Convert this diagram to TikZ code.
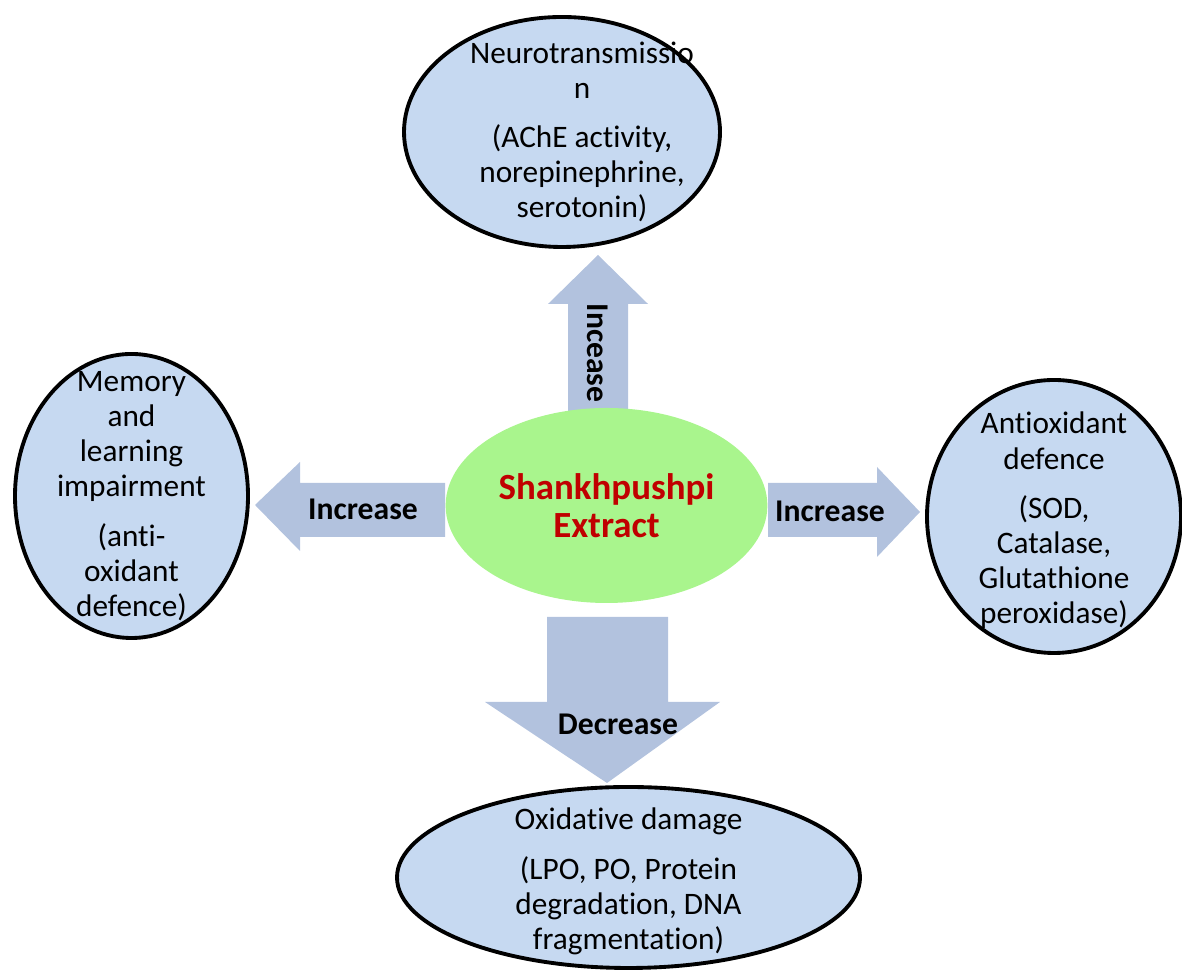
\documentclass[tikz,border=0pt]{standalone}
\usepackage{fontspec}
\setmainfont[Ligatures={NoCommon}]{Carlito}
\usetikzlibrary{shapes.geometric,positioning}

\definecolor{effectblue}{HTML}{C6D9F1}
\definecolor{arrowblue}{HTML}{B2C2DE}
\definecolor{extractgreen}{HTML}{A9F58D}
\definecolor{extractred}{HTML}{C00000}

\begin{document}
\begin{tikzpicture}[
    effect/.style={draw, ellipse, line width=2.2pt, fill=effectblue, inner sep=0pt},
    efftext/.style={align=center, font=\fontsize{17.8}{20}\selectfont},
    blockarrow/.style={fill=arrowblue},
    arrowtext/.style={font=\fontsize{18}{21}\selectfont\bfseries}]
  \useasboundingbox (0,0) rectangle (23.64,19.44);

  \fill [blockarrow] (11.36,11.14) -- (11.36,13.36) -- (10.96,13.36) -- (11.96,14.34) -- (12.96,13.36) -- (12.56,13.36) -- (12.56,11.14) -- cycle;
  \fill [blockarrow] (8.90,9.78) -- (6.00,9.78) -- (6.00,10.20) -- (5.10,9.34) -- (6.00,8.42) -- (6.00,8.70) -- (8.90,8.70) -- cycle;
  \fill [blockarrow] (15.36,9.78) -- (17.54,9.78) -- (17.54,10.10) -- (18.40,9.20) -- (17.54,8.30) -- (17.54,8.70) -- (15.36,8.70) -- cycle;
  \fill [blockarrow] (10.94,7.10) -- (10.94,5.40) -- (9.70,5.40) -- (12.14,3.78) -- (14.40,5.40) -- (13.36,5.40) -- (13.36,7.10) -- cycle;

  \node (shank) [ellipse, fill=extractgreen, minimum width=6.38cm, minimum height=3.90cm, align=center,
    text=extractred, font=\fontsize{21}{21.5}\selectfont\bfseries] at (12.13,9.33) {Shankhpushpi\\Extract};

  \node (neuro) [effect, minimum width=6.32cm, minimum height=4.60cm,
    label={[efftext, xshift=0.4cm]center:Neurotransmissio\\n\\[8pt](AChE activity,\\norepinephrine,\\serotonin)}] at (11.24,16.80) {};
  \node (memory) [effect, minimum width=4.66cm, minimum height=5.68cm,
    label={[efftext]center:Memory\\and\\learning\\impairment\\[8pt](anti-\\oxidant\\defence)}] at (2.63,9.52) {};
  \node (antiox) [effect, minimum width=5.08cm, minimum height=5.46cm,
    label={[efftext, yshift=-0.08cm]center:Antioxidant\\defence\\[8pt](SOD,\\Catalase,\\Glutathione\\peroxidase)}] at (21.08,9.11) {};
  \node (oxid) [effect, minimum width=9.26cm, minimum height=3.62cm,
    label={[efftext, yshift=-0.08cm]center:Oxidative damage\\[8pt](LPO, PO, Protein\\degradation, DNA\\fragmentation)}] at (12.57,1.89) {};

  \node (incup) [arrowtext, rotate=-90] at (11.96,12.38) {Incease};
  \node (incleft) [arrowtext] at (7.26,9.26) {Increase};
  \node (incright) [arrowtext] at (16.60,9.22) {Increase};
  \node (decdown) [arrowtext] at (12.36,4.96) {Decrease};
\end{tikzpicture}
\end{document}
